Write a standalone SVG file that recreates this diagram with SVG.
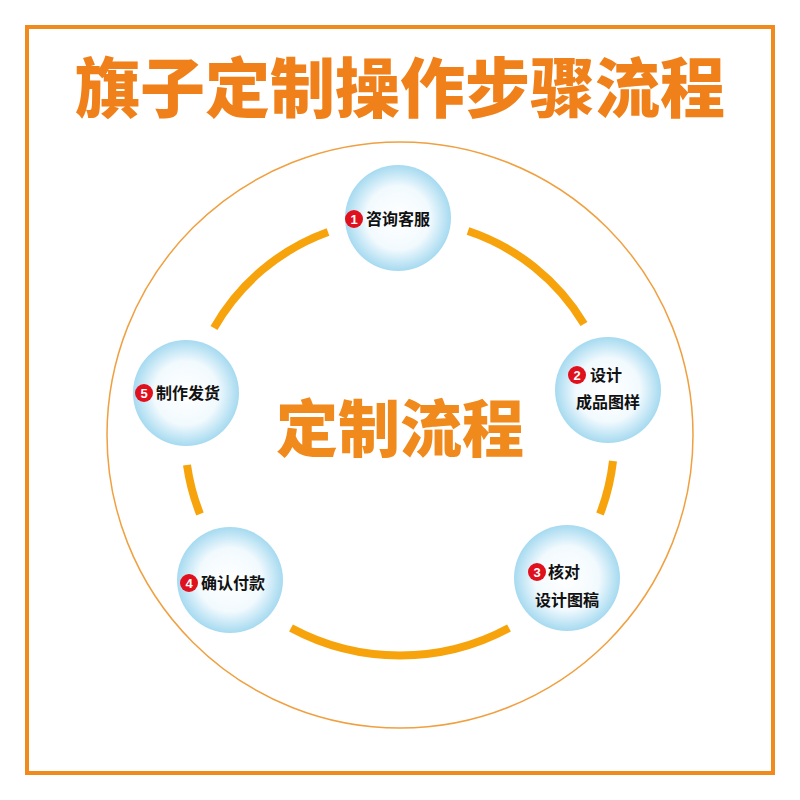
<svg xmlns="http://www.w3.org/2000/svg" width="800" height="800" viewBox="0 0 800 800">
<defs>
<radialGradient id="g" cx="50%" cy="50%" r="50%">
<stop offset="0" stop-color="#ffffff"/><stop offset="0.6" stop-color="#f2fafe"/><stop offset="1" stop-color="#a6daf0"/>
</radialGradient>
<style>
.n{fill:url(#g)}
.t{font-family:"Noto Sans CJK SC",sans-serif;font-weight:bold;font-size:16px;fill:#111}
.b{fill:#e0101c}
.bt{font-family:"Liberation Sans",sans-serif;font-weight:bold;font-size:13px;fill:#fff;text-anchor:middle}
.a{fill:none;stroke:#f7a30b;stroke-width:8;stroke-linecap:butt}
</style>
</defs>
<rect width="800" height="800" fill="#fff"/>
<rect x="27" y="27" width="746" height="746" fill="none" stroke="#f08a1c" stroke-width="4"/>
<text x="400" y="112" text-anchor="middle" font-family="Noto Sans CJK SC,sans-serif" font-weight="900" font-size="65" fill="#f0801a">旗子定制操作步骤流程</text>
<circle cx="400" cy="435" r="293" fill="none" stroke="#f0a040" stroke-width="1.5"/>
<g id="connectors">
<path class="a" d="M468,231 A215,215 0 0 1 584,324"/>
<path class="a" d="M613,461 A215,215 0 0 1 600,514"/>
<path class="a" d="M509,628 A230,230 0 0 1 291,628"/>
<path class="a" d="M200,514 A215,215 0 0 1 187,465"/>
<path class="a" d="M214,328 A215,215 0 0 1 328,232"/>
</g>
<text x="400" y="452" text-anchor="middle" font-family="Noto Sans CJK SC,sans-serif" font-weight="900" font-size="62" fill="#f08a1c">定制流程</text>
<g id="n1"><circle class="n" cx="398" cy="218" r="53"/><circle class="b" cx="354" cy="219" r="9"/><text class="bt" x="354" y="224">1</text><text class="t" x="366" y="225">咨询客服</text></g>
<g id="n2"><circle class="n" cx="608" cy="390" r="53"/><circle class="b" cx="577" cy="375" r="9"/><text class="bt" x="577" y="380">2</text><text class="t" x="590" y="381">设计</text><text class="t" x="608" y="408" text-anchor="middle">成品图样</text></g>
<g id="n3"><circle class="n" cx="567" cy="578" r="53"/><circle class="b" cx="537" cy="572" r="9"/><text class="bt" x="537" y="577">3</text><text class="t" x="548" y="578">核对</text><text class="t" x="567" y="606" text-anchor="middle">设计图稿</text></g>
<g id="n4"><circle class="n" cx="230" cy="580" r="53"/><circle class="b" cx="189" cy="583" r="9"/><text class="bt" x="189" y="588">4</text><text class="t" x="201" y="589">确认付款</text></g>
<g id="n5"><circle class="n" cx="186" cy="393" r="53"/><circle class="b" cx="144" cy="393" r="9"/><text class="bt" x="144" y="398">5</text><text class="t" x="156" y="399">制作发货</text></g>
</svg>
